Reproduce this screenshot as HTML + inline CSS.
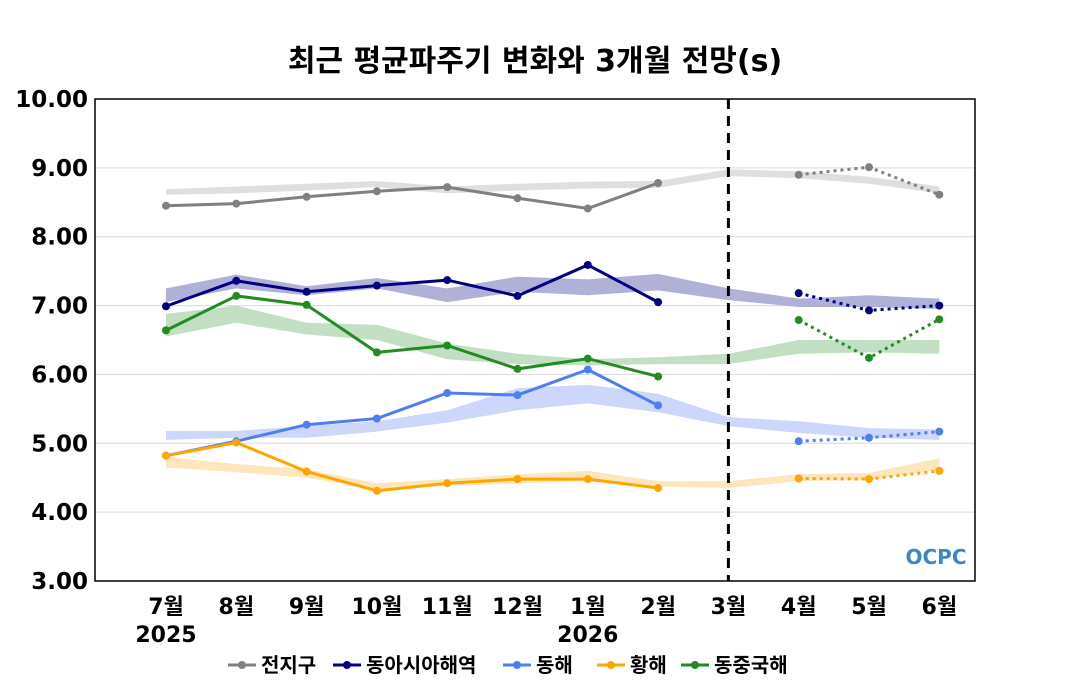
<!DOCTYPE html>
<html><head><meta charset="utf-8">
<style>
body{margin:0;background:#fff;}
svg{display:block;font-family:"DejaVu Sans","Noto Sans CJK KR",sans-serif;}
</style></head>
<body>
<svg id="chart" width="1070" height="700" viewBox="0 0 1070 700">
<text x="535" y="71" text-anchor="middle" font-size="30" font-weight="bold">최근 평균파주기 변화와 3개월 전망(s)</text>
<g id="grid"></g>
<g id="bands"></g>
<g id="lines"></g>
<rect x="95" y="99" width="880" height="482" fill="none" stroke="#000" stroke-width="1.5"/>
<g id="axes"></g>
<g id="legend"></g>
<text x="936" y="564" text-anchor="middle" font-size="20" font-weight="bold" fill="#3b86c6">OCPC</text>
</svg>
<script>
const categories=["7월","8월","9월","10월","11월","12월","1월","2월","3월","4월","5월","6월"];
const yearLabels=[["2025",0],["2026",6]];
const yTicks=[3,4,5,6,7,8,9,10];
const seriesNames=["전지구","동아시아해역","동해","황해","동중국해"];
const colors=["#808080","#000080","#4f7ef2","#ffa500","#228b22"];
const bandColors=["#dcdcdc","#a8a8d4","#c6d3fb","#fde3b5","#bcdcbc"];
const obsGlobal=[8.45,8.48,8.58,8.66,8.72,8.56,8.41,8.78];
const obsEastAsia=[6.99,7.36,7.20,7.29,7.37,7.14,7.59,7.05];
const obsEastSea=[4.82,5.03,5.27,5.36,5.73,5.70,6.07,5.55];
const obsYellow=[4.82,5.01,4.59,4.31,4.42,4.48,4.48,4.35];
const obsECS=[6.64,7.14,7.01,6.32,6.42,6.08,6.23,5.97];
const fcGlobal=[8.90,9.01,8.61];
const fcEastAsia=[7.18,6.93,7.00];
const fcEastSea=[5.03,5.08,5.17];
const fcYellow=[4.49,4.48,4.60];
const fcECS=[6.79,6.24,6.80];
const bandLoGlobal=[8.61,8.63,8.67,8.72,8.63,8.67,8.70,8.71,8.88,8.85,8.77,8.63];
const bandHiGlobal=[8.69,8.73,8.77,8.81,8.73,8.77,8.80,8.81,8.98,8.95,8.87,8.73];
const bandLoEastAsia=[7.05,7.25,7.15,7.25,7.05,7.20,7.15,7.22,7.08,6.98,6.98,6.95];
const bandHiEastAsia=[7.25,7.45,7.28,7.40,7.25,7.42,7.38,7.46,7.25,7.10,7.15,7.10];
const bandLoEastSea=[5.05,5.08,5.08,5.17,5.30,5.48,5.58,5.45,5.25,5.15,5.08,5.05];
const bandHiEastSea=[5.18,5.18,5.25,5.32,5.48,5.80,5.85,5.72,5.38,5.32,5.22,5.20];
const bandLoYellow=[4.65,4.58,4.50,4.33,4.38,4.42,4.45,4.37,4.35,4.45,4.47,4.62];
const bandHiYellow=[4.80,4.70,4.62,4.42,4.48,4.55,4.60,4.45,4.45,4.55,4.57,4.78];
const bandLoECS=[6.55,6.75,6.58,6.50,6.22,6.15,6.13,6.15,6.15,6.30,6.32,6.30];
const bandHiECS=[6.88,7.00,6.75,6.72,6.45,6.30,6.22,6.25,6.30,6.50,6.50,6.50];

const obs=[obsGlobal,obsEastAsia,obsEastSea,obsYellow,obsECS];
const fc=[fcGlobal,fcEastAsia,fcEastSea,fcYellow,fcECS];
const bLo=[bandLoGlobal,bandLoEastAsia,bandLoEastSea,bandLoYellow,bandLoECS];
const bHi=[bandHiGlobal,bandHiEastAsia,bandHiEastSea,bandHiYellow,bandHiECS];
const NS="http://www.w3.org/2000/svg";
const X=i=>166+i*70.3;
const Y=v=>581-(v-3)*(482/7);
function mk(tag,parent,attrs){const e=document.createElementNS(NS,tag);for(const k in attrs)e.setAttribute(k,attrs[k]);document.getElementById(parent).appendChild(e);return e;}
yTicks.forEach(t=>{
  if(t>3&&t<10){const g=mk("line","grid",{x1:95,x2:975,y1:Y(t),y2:Y(t),stroke:"#d9d9d9","stroke-width":1});
  
  }
  const l=mk("text","axes",{x:88,y:Y(t)+8,"text-anchor":"end","font-size":23,"font-weight":"bold"});l.textContent=t.toFixed(2);
  
  
});
categories.forEach((c,i)=>{
  const l=mk("text","axes",{x:X(i),y:614,"text-anchor":"middle","font-size":22,"font-weight":"bold"});l.textContent=c;
  
  
});
yearLabels.forEach(([yr,i])=>{
  const l=mk("text","axes",{x:X(i),y:642,"text-anchor":"middle","font-size":22,"font-weight":"bold"});l.textContent=yr;
  
  
});
const vl=mk("line","lines",{x1:X(8),x2:X(8),y1:99,y2:581,stroke:"#000","stroke-width":3,"stroke-dasharray":"10,7"});


for(let s=0;s<5;s++){
  let d="M"+bLo[s].map((v,i)=>X(i)+","+Y(v)).join(" L");
  d+=" L"+bHi[s].map((v,i)=>X(i)+","+Y(v)).reverse().join(" L")+"Z";
  const b=mk("path","bands",{d:d,fill:bandColors[s],opacity:0.9});
  
  
}
for(let s=0;s<5;s++){
  const p=mk("polyline","lines",{points:obs[s].map((v,i)=>X(i)+","+Y(v)).join(" "),fill:"none",stroke:colors[s],"stroke-width":3});
  
  
  const q=mk("polyline","lines",{points:fc[s].map((v,i)=>X(i+9)+","+Y(v)).join(" "),fill:"none",stroke:colors[s],"stroke-width":3,"stroke-dasharray":"3,4"});
  
  
  obs[s].forEach((v,i)=>{const c=mk("circle","lines",{cx:X(i),cy:Y(v),r:4,fill:colors[s]});
    
    });
  fc[s].forEach((v,i)=>{const c=mk("circle","lines",{cx:X(i+9),cy:Y(v),r:4,fill:colors[s]});
    
    });
}
const lx=[228,333,503,597,681];
seriesNames.forEach((n,i)=>{
  const g=mk("g","legend",{});
  
  
  const ln=document.createElementNS(NS,"line");
  [["x1",lx[i]],["x2",lx[i]+28],["y1",665],["y2",665],["stroke",colors[i]],["stroke-width",3]].forEach(a=>ln.setAttribute(a[0],a[1]));
  g.appendChild(ln);
  const c=document.createElementNS(NS,"circle");
  [["cx",lx[i]+14],["cy",665],["r",4],["fill",colors[i]]].forEach(a=>c.setAttribute(a[0],a[1]));
  g.appendChild(c);
  const t=document.createElementNS(NS,"text");
  [["x",lx[i]+33],["y",672],["font-size",20],["font-weight","bold"]].forEach(a=>t.setAttribute(a[0],a[1]));
  t.textContent=n;g.appendChild(t);
});
</script>
</body></html>
